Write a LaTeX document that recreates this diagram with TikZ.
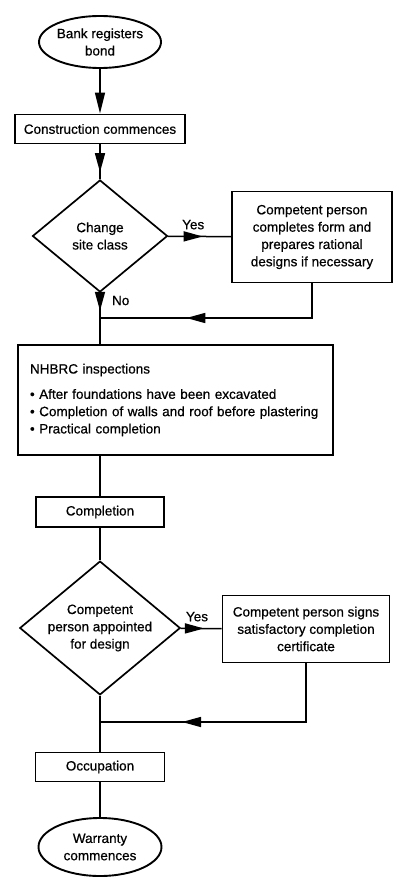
\documentclass[tikz,border=0pt]{standalone}
\usepackage{fontspec}
\setmainfont[FakeBold=0.6,AutoFakeBold=0.6]{Liberation Sans}
\usetikzlibrary{shapes.geometric, arrows.meta, positioning, decorations.markings}

\begin{document}
\begin{tikzpicture}[
    x=1pt, y=-1pt,
    font=\fontsize{13.5}{17.3}\selectfont\bfseries,
    box/.style={rectangle, draw, line width=1.9pt, minimum width=#1, minimum height=29pt, inner sep=2pt, align=center},
    terminal/.style={ellipse, draw, line width=1.9pt, minimum width=120pt, minimum height=52pt, inner sep=0pt, align=center},
    decision/.style={diamond, draw, line width=1.7pt, aspect=1.2, inner sep=0pt, align=center},
    line/.style={line width=1.5pt},
    arrow/.style={line, -{Triangle[length=21pt, width=10pt]}},
    midarrow/.style={line, postaction={decorate}, decoration={markings, mark=at position #1 with {\arrow{Triangle[length=19pt, width=10pt]}}}}
]
    \useasboundingbox (0,0) rectangle (398,877);

    \node[terminal] (bond) at (100,42) {Bank registers\\bond};
    \node[box=170pt] (start) at (100,129) {Construction commences};
    \node[decision, minimum width=135pt, minimum height=112pt] (siteclass) at (100,236) {Change\\site class};
    \node[box=160pt, minimum height=91pt] (rational) at (312,237) {Competent person\\completes form and\\prepares rational\\designs if necessary};
    \coordinate (join1) at (100,318);
    \node[box=315pt, minimum height=110pt, text width=291pt, inner xsep=12pt, align=left] (inspect) at (175.5,400)
        {NHBRC inspections\\[8pt]
         \textbullet\ After foundations have been excavated\\
         \textbullet\ Completion of walls and roof before plastering\\
         \textbullet\ Practical completion};
    \node[box=128pt, minimum height=30pt] (complete) at (100,512) {Completion};
    \node[decision, minimum width=157pt, minimum height=130pt] (appointed) at (100,628) {Competent\\person appointed\\for design};
    \node[box=167pt, minimum height=67pt] (certificate) at (306,629) {Competent person signs\\satisfactory completion\\certificate};
    \coordinate (join2) at (100,722);
    \node[box=129pt] (occupy) at (100,767) {Occupation};
    \node[terminal, minimum width=123pt, minimum height=58pt] (warranty) at (100,847) {Warranty\\commences};

    \draw[arrow] (bond) -- (start);
    \draw[midarrow=0.8] (start) -- (siteclass);
    \draw[midarrow=0.55] (siteclass) -- node[above=3pt, pos=0.4] {Yes} (rational);
    \draw[midarrow=0.35] (siteclass.south) -- node[right=8pt, pos=0.15] {No} (siteclass.south |- inspect.north);
    \draw[midarrow=0.65] (rational.south) |- (join1);
    \draw[line] (inspect.south -| complete.north) -- (complete);
    \draw[line] (complete) -- (appointed);
    \draw[midarrow=0.57] (appointed) -- node[above=3pt, pos=0.4] {Yes} (certificate);
    \draw[midarrow=0.69] (certificate.south) |- (join2);
    \draw[line] (appointed) -- (occupy);
    \draw[line] (occupy) -- (warranty);
\end{tikzpicture}
\end{document}
